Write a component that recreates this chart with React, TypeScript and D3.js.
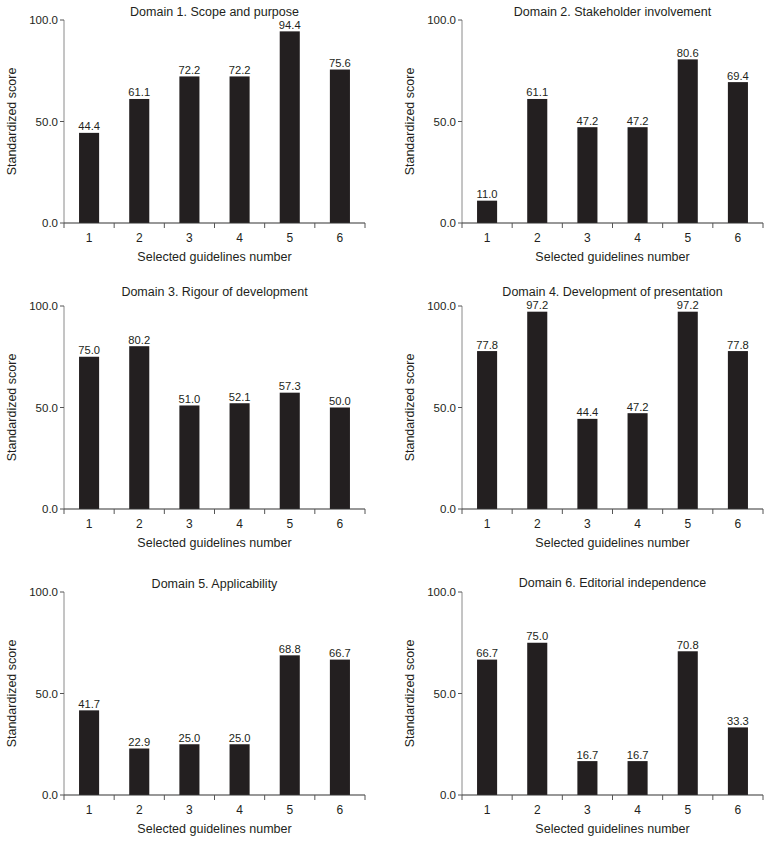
import React from "react";
import * as d3 from "d3";

const guidelines = ["1", "2", "3", "4", "5", "6"];
const domainTitles = [
  "Domain 1. Scope and purpose",
  "Domain 2. Stakeholder involvement",
  "Domain 3. Rigour of development",
  "Domain 4. Development of presentation",
  "Domain 5. Applicability",
  "Domain 6. Editorial independence",
];
const domain1 = [44.4, 61.1, 72.2, 72.2, 94.4, 75.6];
const domain2 = [11.0, 61.1, 47.2, 47.2, 80.6, 69.4];
const domain3 = [75.0, 80.2, 51.0, 52.1, 57.3, 50.0];
const domain4 = [77.8, 97.2, 44.4, 47.2, 97.2, 77.8];
const domain5 = [41.7, 22.9, 25.0, 25.0, 68.8, 66.7];
const domain6 = [66.7, 75.0, 16.7, 16.7, 70.8, 33.3];
const yTicks = [0, 50, 100];
const yLabel = "Standardized score";
const xLabel = "Selected guidelines number";

const allDomains = [domain1, domain2, domain3, domain4, domain5, domain6];

const FONT = "'Liberation Sans', Arial, sans-serif";
const BAR = "#231f20";
const TEXT = "#231f20";

const W = 301;
const H = 203;
const origins = [
  [64, 20],
  [462, 20],
  [64, 306],
  [462, 306],
  [64, 592],
  [462, 592],
];
const titleOffsets = [-4, -4, -10, -10, -4, -5];

function Panel({ title, values, ox, oy, tOff }: { title: string; values: number[]; ox: number; oy: number; tOff: number }) {
  const x = d3.scaleBand<string>().domain(guidelines).range([0, W]).paddingInner(0.6).paddingOuter(0.3);
  const xb = d3.scaleBand<string>().domain(guidelines).range([0, W]);
  const y = d3.scaleLinear().domain([0, 100]).range([H, 0]);
  const fmt = d3.format(".1f");
  const bounds = [...guidelines.map((g) => xb(g) as number), W];
  return (
    <g transform={`translate(${ox},${oy})`}>
      <text x={W / 2} y={tOff} textAnchor="middle" fontSize={12.5} fill={TEXT} fontFamily={FONT}>
        {title}
      </text>
      {guidelines.map((g, i) => (
        <rect key={g} x={x(g)} y={y(values[i])} width={x.bandwidth()} height={H - y(values[i])} fill={BAR} />
      ))}
      {guidelines.map((g, i) => (
        <text
          key={"v" + g}
          x={(x(g) as number) + x.bandwidth() / 2}
          y={y(values[i]) - 2.5}
          textAnchor="middle"
          fontSize={11.2}
          fill={TEXT}
          fontFamily={FONT}
        >
          {fmt(values[i])}
        </text>
      ))}
      <line x1={0} x2={0} y1={0} y2={H} stroke="#8a8a8a" strokeWidth={1} />
      {yTicks.map((t) => (
        <g key={"y" + t}>
          <line x1={-4} x2={0} y1={y(t)} y2={y(t)} stroke="#555" strokeWidth={1} />
          <text x={-6} y={y(t) + 4} textAnchor="end" fontSize={11.5} fill={TEXT} fontFamily={FONT}>
            {fmt(t)}
          </text>
        </g>
      ))}
      <line x1={0} x2={W} y1={H} y2={H} stroke="#333" strokeWidth={1.2} />
      {bounds.map((b, i) => (
        <line key={"b" + i} x1={b} x2={b} y1={H} y2={H + 5} stroke="#555" strokeWidth={1} />
      ))}
      {guidelines.map((g) => (
        <text
          key={"t" + g}
          x={(xb(g) as number) + xb.bandwidth() / 2}
          y={H + 19}
          textAnchor="middle"
          fontSize={12}
          fill={TEXT}
          fontFamily={FONT}
        >
          {g}
        </text>
      ))}
      <text x={W / 2} y={H + 38} textAnchor="middle" fontSize={12.5} fill={TEXT} fontFamily={FONT}>
        {xLabel}
      </text>
      <text
        transform={`translate(${-52},${H / 2}) rotate(-90)`}
        dy="0.35em"
        textAnchor="middle"
        fontSize={12.5}
        fill={TEXT}
        fontFamily={FONT}
      >
        {yLabel}
      </text>
    </g>
  );
}

export default function App() {
  return (
    <svg
      width={770}
      height={841}
      style={{ position: "absolute", left: 0, top: 0, background: "#fff" }}
    >
      <rect width={770} height={841} fill="#fff" />
      {allDomains.map((vals, i) => (
        <Panel
          key={i}
          title={domainTitles[i]}
          values={vals}
          ox={origins[i][0]}
          oy={origins[i][1]}
          tOff={titleOffsets[i]}
        />
      ))}
    </svg>
  );
}
